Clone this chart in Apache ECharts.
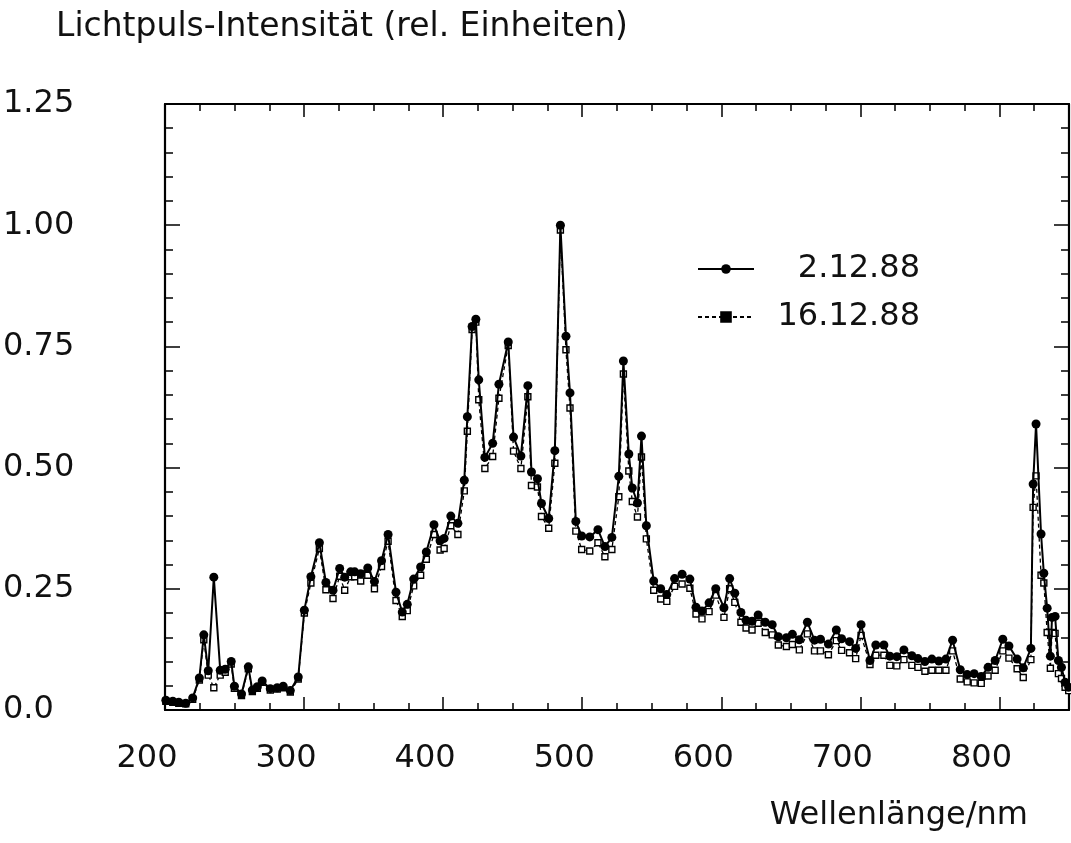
<!DOCTYPE html>
<html><head><meta charset="utf-8">
<script src="https://cdn.jsdelivr.net/npm/echarts@6/dist/echarts.min.js"></script>
<style>html,body{margin:0;padding:0;background:#fff}#c{width:1071px;height:843px}</style>
</head><body><div id="c"></div>
<script>
// Wavelengths (nm) of the measured points
const wavelengths = [200.6,205.6,209.9,214.9,219.9,224.7,227.9,231.1,235.1,239.7,
243.3,247.6,249.9,255.0,259.9,262.8,266.4,269.9,275.7,280.7,
285.0,290.1,295.8,300.2,304.9,311.0,315.7,320.8,325.6,329.2,
333.5,336.4,340.7,345.8,350.6,355.7,360.4,366.1,370.6,374.2,
378.8,383.8,387.9,393.4,397.8,400.7,405.5,410.6,415.2,417.4,
420.8,423.5,425.6,430.0,435.6,440.1,446.8,450.6,455.9,460.9,
463.5,467.8,470.7,475.9,480.3,484.3,488.3,491.2,495.4,499.6,
505.4,511.3,516.3,521.3,526.3,529.6,533.5,536.0,539.7,542.6,
546.1,551.4,556.4,560.8,566.4,571.8,577.4,581.8,586.1,591.2,
596.0,601.9,606.0,609.7,614.1,617.8,622.1,626.5,631.6,636.6,
641.0,646.8,651.1,656.1,661.9,667.0,671.3,677.0,682.7,686.5,
692.2,696.6,700.5,706.9,711.1,716.9,721.2,726.2,731.3,737.0,
741.4,746.4,751.4,756.4,761.5,766.3,771.8,776.8,781.8,786.9,
791.8,796.9,802.4,806.8,812.7,817.1,822.6,824.2,826.3,829.9,
831.9,834.3,836.6,837.8,840.0,842.4,844.6,847.2,849.8];

// Series "2.12.88"
const series1 = [0.020,0.018,0.016,0.014,0.025,0.066,0.155,0.081,0.274,0.082,
0.084,0.100,0.049,0.033,0.089,0.041,0.048,0.060,0.044,0.046,
0.049,0.040,0.068,0.206,0.275,0.345,0.263,0.247,0.292,0.274,
0.285,0.285,0.281,0.293,0.265,0.308,0.362,0.243,0.202,0.218,
0.270,0.295,0.326,0.382,0.349,0.354,0.400,0.385,0.474,0.605,
0.791,0.806,0.681,0.521,0.550,0.672,0.759,0.563,0.524,0.669,
0.491,0.477,0.426,0.395,0.535,1.000,0.771,0.654,0.389,0.359,
0.357,0.372,0.337,0.356,0.482,0.720,0.528,0.458,0.427,0.565,
0.380,0.266,0.250,0.238,0.271,0.280,0.270,0.212,0.204,0.221,
0.250,0.211,0.271,0.241,0.201,0.185,0.183,0.196,0.181,0.176,
0.151,0.149,0.156,0.145,0.181,0.144,0.146,0.136,0.165,0.147,
0.141,0.127,0.176,0.102,0.134,0.134,0.111,0.110,0.124,0.112,
0.106,0.100,0.105,0.101,0.105,0.144,0.083,0.073,0.075,0.069,
0.088,0.102,0.146,0.132,0.105,0.087,0.127,0.466,0.590,0.363,
0.282,0.210,0.111,0.191,0.193,0.102,0.088,0.057,0.047];

// Series "16.12.88"
const series2 = [0.018,0.016,0.014,0.013,0.022,0.062,0.145,0.072,0.046,0.072,
0.078,0.095,0.045,0.030,0.085,0.038,0.045,0.057,0.041,0.043,
0.046,0.037,0.064,0.200,0.262,0.333,0.248,0.230,0.276,0.247,
0.275,0.275,0.266,0.278,0.250,0.296,0.348,0.226,0.193,0.205,
0.256,0.278,0.311,0.362,0.330,0.333,0.380,0.362,0.452,0.575,
0.785,0.800,0.640,0.498,0.523,0.643,0.752,0.534,0.498,0.646,
0.463,0.460,0.399,0.375,0.509,0.990,0.743,0.623,0.369,0.331,
0.328,0.345,0.316,0.331,0.440,0.693,0.493,0.430,0.398,0.522,
0.353,0.247,0.229,0.224,0.255,0.260,0.251,0.198,0.188,0.203,
0.237,0.191,0.250,0.222,0.181,0.169,0.165,0.179,0.160,0.155,
0.134,0.131,0.135,0.124,0.157,0.122,0.122,0.114,0.143,0.123,
0.118,0.106,0.154,0.094,0.113,0.113,0.092,0.091,0.104,0.092,
0.088,0.080,0.082,0.082,0.082,0.122,0.064,0.058,0.056,0.055,
0.070,0.082,0.122,0.107,0.085,0.067,0.104,0.418,0.483,0.278,
0.262,0.160,0.086,0.160,0.158,0.075,0.065,0.047,0.040];

const seriesNames = ['2.12.88', '16.12.88'];
const xLabelValues = [200, 300, 400, 500, 600, 700, 800];
const yLabelValues = [0, 0.25, 0.5, 0.75, 1.0, 1.25];
const yTitle = 'Lichtpuls-Intensität (rel. Einheiten)';
const xTitle = 'Wellenlänge/nm';

const FONT = "'DejaVu Sans ExtraLight', 'DejaVu Sans', sans-serif";
const BLACK = '#000';
const TEXT = '#111';
const tickLine = {color: BLACK, width: 1.5};
const frameLine = {color: BLACK, width: 2.2};

function pairs(xs, ys) { return xs.map((x, i) => [x, ys[i]]); }

const xBase = {type: 'value', min: 200, max: 850, splitLine: {show: false}};
const yBase = {type: 'value', min: 0, max: 1.25, splitLine: {show: false}};

const option = {
  animation: false,
  backgroundColor: '#fff',
  grid: {left: 164, right: 2, top: 104, bottom: 133, containLabel: false},
  title: [
    {text: yTitle, left: 56, top: 11, padding: 0,
     textStyle: {fontSize: 33, fontWeight: 'normal', fontFamily: FONT, color: TEXT}},
    {text: xTitle, right: 43, top: 800, padding: 0,
     textStyle: {fontSize: 32, fontWeight: 'normal', fontFamily: FONT, color: TEXT}}
  ],
  legend: {
    orient: 'vertical', left: 697, top: 253, padding: 0,
    itemWidth: 56, itemHeight: 12, itemGap: 16,
    data: [{name: seriesNames[0]}, {name: seriesNames[1], itemStyle: {color: BLACK, borderColor: BLACK}}],
    formatter: n => '{a|' + n + '}',
    textStyle: {rich: {a: {width: 161, align: 'right', fontSize: 32, fontFamily: FONT, color: TEXT, lineHeight: 34}}}
  },
  xAxis: [
    Object.assign({}, xBase, {position: 'bottom', interval: 25,
      axisLine: {onZero: false, lineStyle: frameLine},
      axisTick: {inside: true, length: 7, lineStyle: tickLine},
      axisLabel: {show: false}}),
    Object.assign({}, xBase, {position: 'bottom',
      axisLine: {show: false, onZero: false},
      axisTick: {inside: true, length: 13, customValues: xLabelValues, lineStyle: tickLine},
      axisLabel: {customValues: xLabelValues, margin: 33, padding: [0, 36, 0, 0],
        fontSize: 32, fontFamily: FONT, color: TEXT}}),
    Object.assign({}, xBase, {position: 'top', interval: 25,
      axisLine: {onZero: false, lineStyle: frameLine},
      axisTick: {inside: true, length: 7, lineStyle: tickLine},
      axisLabel: {show: false}}),
    Object.assign({}, xBase, {position: 'top',
      axisLine: {show: false, onZero: false},
      axisTick: {inside: true, length: 13, customValues: xLabelValues, lineStyle: tickLine},
      axisLabel: {show: false}})
  ],
  yAxis: [
    Object.assign({}, yBase, {position: 'left', interval: 0.05,
      axisLine: {onZero: false, lineStyle: frameLine},
      axisTick: {inside: true, length: 8, lineStyle: tickLine},
      axisLabel: {show: false}}),
    Object.assign({}, yBase, {position: 'left',
      axisLine: {show: false, onZero: false},
      axisTick: {inside: true, length: 15, customValues: yLabelValues, lineStyle: tickLine},
      axisLabel: {customValues: yLabelValues, align: 'left', margin: 162,
        fontSize: 32, fontFamily: FONT, color: TEXT,
        formatter: v => (v === 0 ? '0.0' : Number(v).toFixed(2))}}),
    Object.assign({}, yBase, {position: 'right', interval: 0.05,
      axisLine: {onZero: false, lineStyle: frameLine},
      axisTick: {inside: true, length: 8, lineStyle: tickLine},
      axisLabel: {show: false}}),
    Object.assign({}, yBase, {position: 'right',
      axisLine: {show: false, onZero: false},
      axisTick: {inside: true, length: 15, customValues: yLabelValues, lineStyle: tickLine},
      axisLabel: {show: false}})
  ],
  series: [
    {
      name: seriesNames[1], type: 'line', xAxisIndex: 0, yAxisIndex: 0, z: 3,
      data: pairs(wavelengths, series2),
      symbol: 'rect', symbolSize: 6, showSymbol: true,
      itemStyle: {color: '#fff', borderColor: BLACK, borderWidth: 1.4},
      lineStyle: {color: BLACK, width: 1.3, type: [4, 3]}
    },
    {
      name: seriesNames[0], type: 'line', xAxisIndex: 0, yAxisIndex: 0, z: 4,
      data: pairs(wavelengths, series1),
      symbol: 'circle', symbolSize: 9, showSymbol: true,
      itemStyle: {color: BLACK, borderWidth: 0},
      lineStyle: {color: BLACK, width: 2}
    }
  ]
};

const chart = echarts.init(document.getElementById('c'), null, {renderer: 'canvas'});
chart.setOption(option);
</script>
</body></html>
